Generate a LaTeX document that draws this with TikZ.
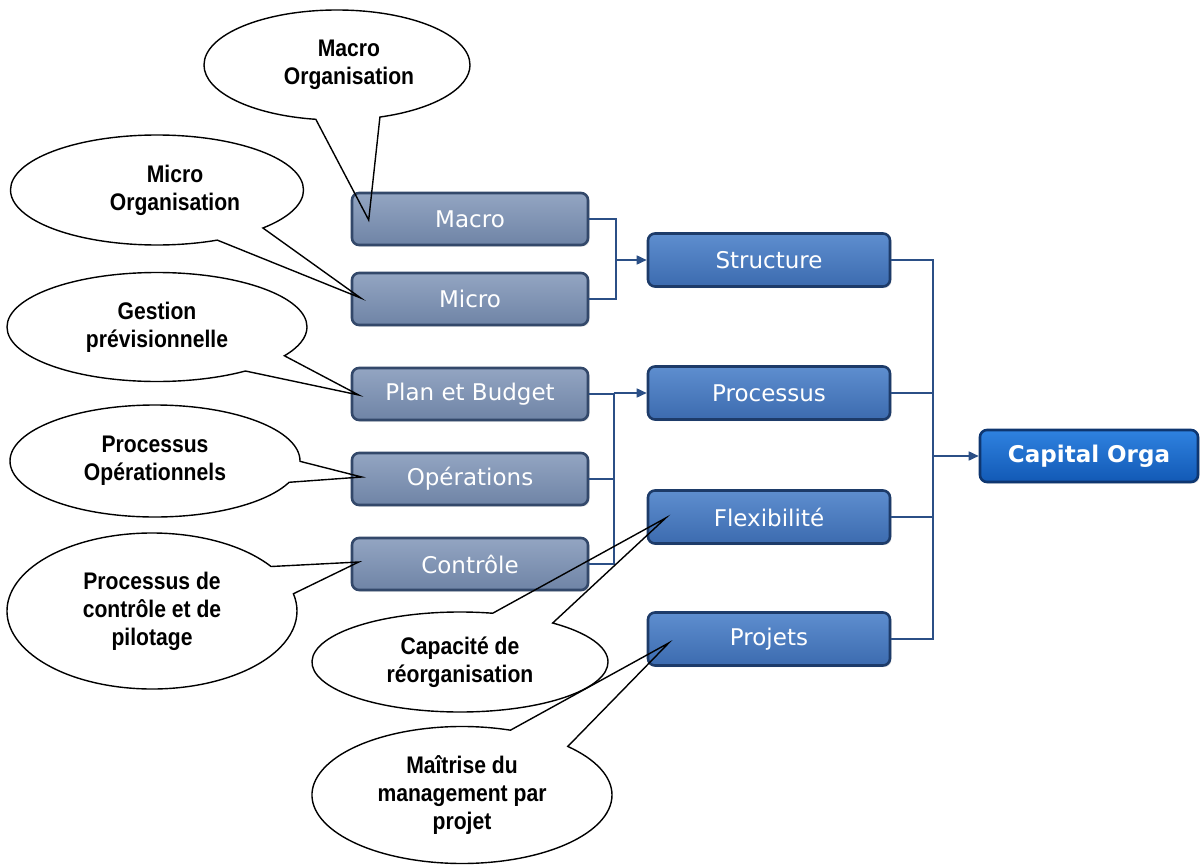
\documentclass[tikz,border=0pt]{standalone}
\usepackage{fontspec}
\setmainfont{Liberation Sans}
\newfontfamily\callfont[FakeStretch=0.88]{Liberation Sans}
\newfontfamily\boxfont{DejaVu Sans}
\usetikzlibrary{shapes.callouts,arrows.meta,calc,shadows}
\definecolor{grayedge}{HTML}{33486A}
\definecolor{graytop}{HTML}{93A5C2}
\definecolor{graybot}{HTML}{6F84A6}
\definecolor{blueedge}{HTML}{1D3B69}
\definecolor{bluetop}{HTML}{5E8ECF}
\definecolor{bluebot}{HTML}{3C6BAF}
\definecolor{capedge}{HTML}{0E3670}
\definecolor{captop}{HTML}{2F82E0}
\definecolor{capbot}{HTML}{1259B5}
\definecolor{linecol}{HTML}{2B4F86}
\tikzset{
  basebox/.style={rectangle, rounded corners=7pt, line width=2.6pt, text=white,
    inner sep=0pt, drop shadow={opacity=0.25, shadow xshift=1.5pt, shadow yshift=-1.5pt}},
  graybox/.style={basebox, draw=grayedge, top color=graytop, bottom color=graybot,
    minimum width=236pt, minimum height=52pt, font=\boxfont\fontsize{23}{26}\selectfont},
  bluebox/.style={basebox, draw=blueedge, top color=bluetop, bottom color=bluebot,
    minimum width=242pt, minimum height=53pt, font=\boxfont\fontsize{23}{26}\selectfont},
  capbox/.style={basebox, draw=capedge, top color=captop, bottom color=capbot,
    minimum width=218pt, minimum height=52pt, font=\boxfont\bfseries\fontsize{23}{26}\selectfont},
  link/.style={draw=linecol, line width=1.6pt},
  arrowlink/.style={link, -{Triangle[length=10pt,width=9pt]}},
  bubble/.style={ellipse callout, draw=black, line width=1.4pt, inner sep=0pt, align=center,
    callout pointer arc=22, font=\callfont\bfseries\fontsize{24}{28}\selectfont}
}
\begin{document}
\begin{tikzpicture}[x=1pt,y=-1pt]
\useasboundingbox (0,0) rectangle (1201,867);

% left column
\node[graybox] (macro) at (470,219) {Macro};
\node[graybox] (micro) at (470,299) {Micro};
\node[graybox] (plan) at (470,394) {Plan et Budget};
\node[graybox] (operations) at (470,479) {Opérations};
\node[graybox] (controle) at (470,564) {Contrôle};

% middle column
\node[bluebox] (structure) at (769,260) {Structure};
\node[bluebox] (processus) at (769,393) {Processus};
\node[bluebox] (flex) at (769,517) {Flexibilité};
\node[bluebox] (projets) at (769,639) {Projets};

% result
\node[capbox] (capital) at (1089,456) {Capital Orga};

% junctions
\path (structure.west) ++(-31,0) coordinate (j1);
\path (processus.west) ++(-33,0) coordinate (j2);
\path (capital.west) ++(-46,0) coordinate (j3);

\draw[link] (macro.east) -| (j1) |- (micro.east);
\draw[arrowlink] (j1) -- (structure.west);

\draw[link] (plan.east) -| (j2) |- (controle.east);
\draw[link] (operations.east) -| (j2);
\draw[arrowlink] (j2) -- (processus.west);

\draw[link] (structure.east) -| (j3) |- (projets.east);
\draw[link] (processus.east) -| (j3);
\draw[link] (flex.east) -| (j3);
\draw[arrowlink] (j3) -- (capital.west);

% callouts
\node[bubble, minimum width=266pt, minimum height=110pt, callout pointer arc=28,
  callout absolute pointer={($(macro.west)+(18,1)$)}] (cmacro) at (337,65)
  {\hspace*{24pt}Macro\\\hspace*{24pt}Organisation};
\node[bubble, minimum width=293pt, minimum height=110pt,
  callout absolute pointer={($(micro.west)+(10,-1)$)}] (cmicro) at (157,190)
  {\hspace*{36pt}Micro\\\hspace*{36pt}Organisation};
\node[bubble, minimum width=300pt, minimum height=109pt,
  callout absolute pointer={($(plan.west)+(8,1)$)}] (cgestion) at (157,327)
  {Gestion\\prévisionnelle};
\node[bubble, minimum width=290pt, minimum height=112pt,
  callout absolute pointer={($(operations.west)+(11,-2)$)}] (cprocop) at (155,461)
  {Processus\\Opérationnels};
\node[bubble, minimum width=290pt, minimum height=156pt,
  callout absolute pointer={($(controle.west)+(8,-2)$)}] (cpilot) at (152,611)
  {Processus de\\contrôle et de\\pilotage};
\node[bubble, minimum width=296pt, minimum height=100pt, callout pointer arc=26,
  callout absolute pointer={($(flex.west)+(19,1)$)}] (ccapa) at (460,662)
  {Capacité de\\réorganisation};
\node[bubble, minimum width=300pt, minimum height=137pt, callout pointer arc=26,
  callout absolute pointer={($(projets.west)+(22,4)$)}] (cmaitrise) at (462,795)
  {Maîtrise du\\management par\\projet};
\end{tikzpicture}
\end{document}
